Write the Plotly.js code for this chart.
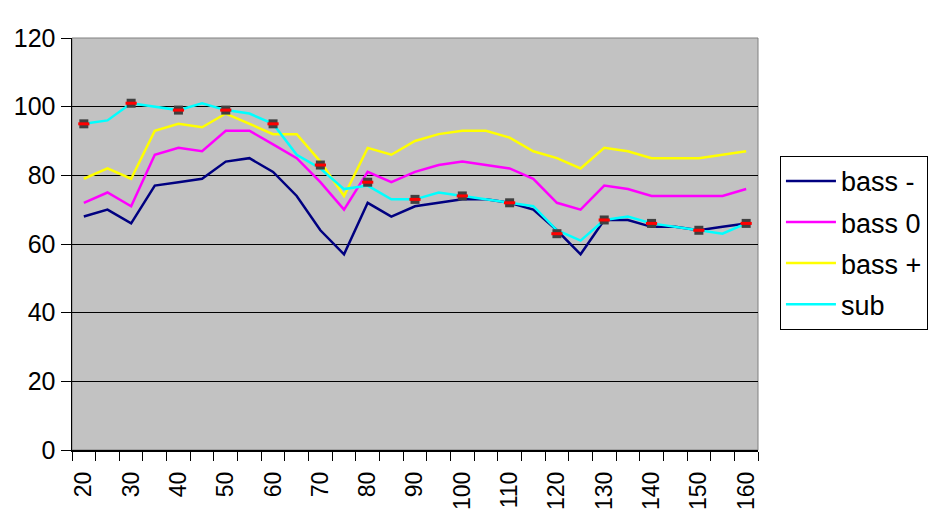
<!DOCTYPE html>
<html>
<head>
<meta charset="utf-8">
<script src="https://cdn.plot.ly/plotly-3.0.1.min.js"></script>
<style>
html,body{margin:0;padding:0;background:#fff;}
#chart{width:940px;height:529px;}
</style>
</head>
<body>
<div id="chart"></div>
<script>
var xValues = [20,25,30,35,40,45,50,55,60,65,70,75,80,85,90,95,100,105,110,115,120,125,130,135,140,145,150,155,160];
var bassMinus = [68,70,66,77,78,79,84,85,81,74,64,57,72,68,71,72,73,73,72,70,64,57,67,67,65,65,64,65,66];
var bassZero  = [72,75,71,86,88,87,93,93,89,85,78,70,81,78,81,83,84,83,82,79,72,70,77,76,74,74,74,74,76];
var bassPlus  = [79,82,79,93,95,94,98,95,92,92,84,74,88,86,90,92,93,93,91,87,85,82,88,87,85,85,85,86,87];
var subValues = [95,96,101,100,99,101,99,98,95,86,82,76,77,73,73,75,74,73,72,71,64,61,67,68,66,65,64,63,66];
var markerX = [20,30,40,50,60,70,80,90,100,110,120,130,140,150,160];
var markerY = [95,101,99,99,95,83,78,73,74,72,63,67,66,64,66];
var xTickVals = [20,30,40,50,60,70,80,90,100,110,120,130,140,150,160];
var xTickText = ["20","30","40","50","60","70","80","90","100","110","120","130","140","150","160"];
var seriesNames = ["bass -","bass 0","bass +","sub"];
var seriesColors = ["#000080","#FF00FF","#FFFF00","#00FFFF"];

var seriesData = [bassMinus, bassZero, bassPlus, subValues];
var traces = seriesData.map(function(ys, i){
  return {x: xValues, y: ys, type:'scatter', mode:'lines', name: seriesNames[i],
    legendgroup: 'g'+i,
    line:{color: seriesColors[i], width:2.5}};
});
traces.push({x: markerX, y: markerY, type:'scatter', mode:'markers', showlegend:false,
  marker:{symbol:'square', size:9, color:'#404040', line:{width:0}}});
traces.push({x: markerX, y: markerY, type:'scatter', mode:'markers', showlegend:false,
  marker:{symbol:'line-ew', size:8, color:'#FF0000', line:{color:'#FF0000', width:3}}});

var fontFam = 'Arial, "Liberation Sans", sans-serif';
var layout = {
  width:940, height:529,
  margin:{l:72, r:180, t:38, b:79, pad:0},
  paper_bgcolor:'#ffffff',
  plot_bgcolor:'#c2c2c2',
  font:{family:fontFam, color:'#000', size:25},
  showlegend:true,
  xaxis:{
    type:'linear', range:[17.5,162.5], fixedrange:true,
    tickmode:'array', tickvals:xTickVals, ticktext:xTickText,
    tickangle:-90, tickfont:{size:23, family:fontFam},
    ticks:'outside', ticklen:11, tickcolor:'rgba(0,0,0,0)',
    minor:{ticks:'outside', ticklen:9, tickwidth:1, tickcolor:'#000', tick0:17.5, dtick:5, showgrid:false},
    showgrid:false, zeroline:false,
    showline:true, linecolor:'#000', linewidth:1.5
  },
  yaxis:{
    range:[0,120], dtick:20, tick0:0, fixedrange:true,
    ticks:'outside', ticklen:10, tickcolor:'#000', tickwidth:1,
    tickfont:{size:25, family:fontFam},
    showgrid:true, gridcolor:'#000', gridwidth:1,
    zeroline:false, showline:true, linecolor:'#000', linewidth:1.5
  },
  shapes:[{type:'rect', xref:'paper', yref:'paper', x0:0, x1:1, y0:0, y1:1,
    line:{color:'#808080', width:1}, fillcolor:'rgba(0,0,0,0)', layer:'below'}],
  legend:{
    x:1.032, y:0.714, xanchor:'left', yanchor:'top',
    bgcolor:'#fff', bordercolor:'#000', borderwidth:1,
    font:{size:27, family:fontFam},
    itemwidth:50,
    traceorder:'grouped', tracegroupgap:3
  }
};
Plotly.newPlot('chart', traces, layout, {staticPlot:true, displayModeBar:false});
</script>
</body>
</html>
